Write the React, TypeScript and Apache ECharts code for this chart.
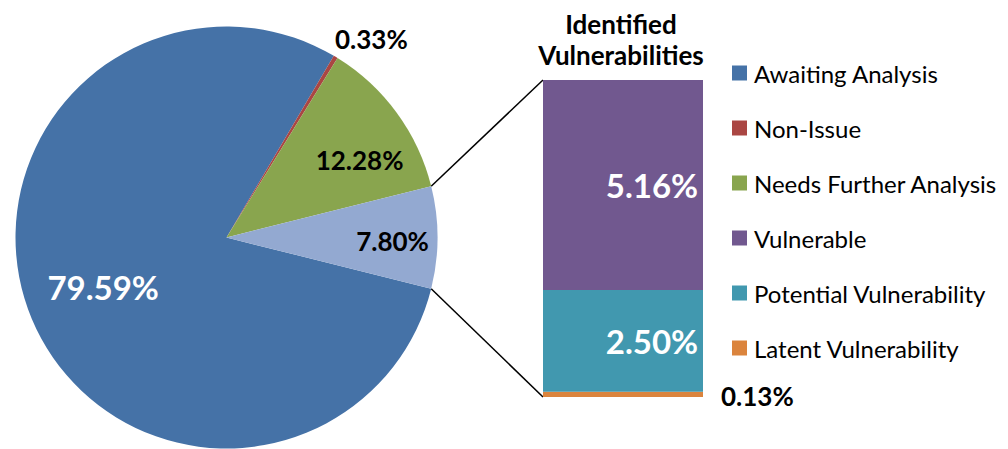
import React, { useEffect, useRef } from "react";
import * as echarts from "echarts";

// ---- data ----
const pieNames = ["Awaiting Analysis", "Non-Issue", "Needs Further Analysis", "Identified Vulnerabilities"];
const pieValues = [79.59, 0.33, 12.28, 7.8];
const pieColors = ["#4572A7", "#AA4643", "#89A54E", "#93A9D1"];

const barNames = ["Latent Vulnerability", "Potential Vulnerability", "Vulnerable"];
const barValues = [0.13, 2.5, 5.16];
const barColors = ["#DB843D", "#4198AF", "#71588F"];

const legendNames = [
  "Awaiting Analysis",
  "Non-Issue",
  "Needs Further Analysis",
  "Vulnerable",
  "Potential Vulnerability",
  "Latent Vulnerability",
];

// ---- layout ----
const W = 1008;
const H = 449;
const CX = 226.5;
const CY = 237.5;
const R = 211;
const BAR_LEFT = 543;
const BAR_RIGHT = 703;
const BAR_TOP = 80;
const BAR_BOTTOM = 397;
const TITLE_X = 616;
const FONT = "Lato, 'Open Sans', sans-serif";

// pie label placement: [radius factor, angle delta from slice mid (deg)]
const pieLabelPolar = [
  [0.63, -0.85],
  [1.165, -4.95],
  [0.73, -5.9],
  [0.787, -1.2],
];

export default function App() {
  const ref = useRef<HTMLDivElement>(null);

  useEffect(() => {
    if (!ref.current) return;
    const chart = echarts.init(ref.current, undefined, { renderer: "svg" });
    const pieTotal = pieValues.reduce((a, b) => a + b, 0);
    const lastShare = pieValues[pieValues.length - 1] / pieTotal;
    const halfAngle = 180 * lastShare;
    const startAngle = 360 - halfAngle;
    const barTotal = barValues.reduce((a, b) => a + b, 0);

    // slice mid angles (deg, math convention), clockwise from startAngle
    const midAngles: number[] = [];
    let acc = startAngle;
    pieValues.forEach((v) => {
      const span = (360 * v) / pieTotal;
      midAngles.push(acc - span / 2);
      acc -= span;
    });

    const option: any = {
      animation: false,
      backgroundColor: "#ffffff",
      textStyle: { fontFamily: FONT },
      title: {
        text: "Identified\nVulnerabilities",
        left: TITLE_X,
        top: 3,
        textAlign: "center",
        textStyle: {
          fontFamily: FONT,
          fontSize: 26,
          fontWeight: "bold",
          color: "#000",
          lineHeight: 31,
        },
      },
      legend: {
        orient: "vertical",
        left: 727,
        top: 56,
        itemWidth: 15,
        itemHeight: 15,
        itemGap: 31,
        icon: "rect",
        data: legendNames,
        selectedMode: false,
        textStyle: { fontFamily: FONT, fontSize: 24, color: "#000", lineHeight: 24, padding: [0, 0, 0, 2] },
      },
      grid: {
        left: BAR_LEFT,
        right: W - BAR_RIGHT,
        top: BAR_TOP,
        bottom: H - BAR_BOTTOM,
      },
      xAxis: { type: "category", data: ["Identified"], show: false },
      yAxis: { type: "value", min: 0, max: barTotal, show: false },
      series: [
        {
          type: "pie",
          center: [CX, CY],
          radius: [0, R],
          startAngle,
          clockwise: true,
          avoidLabelOverlap: false,
          data: pieNames.map((n, i) => ({
            name: n,
            value: pieValues[i],
            itemStyle: { color: pieColors[i] },
            label: {
              color: i === 0 ? "#fff" : "#000",
              fontSize: i === 0 ? 33 : 26,
            },
          })),
          label: {
            show: true,
            position: "inside",
            fontFamily: FONT,
            fontWeight: "bold",
            formatter: (p: any) => p.value.toFixed(2) + "%",
          },
          labelLine: { show: false },
          labelLayout: (p: any) => {
            const i = p.dataIndex;
            const pol = pieLabelPolar[i];
            const th = ((midAngles[i] + pol[1]) * Math.PI) / 180;
            return {
              x: CX + R * pol[0] * Math.cos(th),
              y: CY - R * pol[0] * Math.sin(th),
              align: "center",
              verticalAlign: "middle",
            };
          },
          itemStyle: { borderWidth: 0 },
          emphasis: { disabled: true },
        },
        ...barNames.map((n, i) => ({
          type: "bar",
          name: n,
          stack: "ident",
          barWidth: "100%",
          data: [barValues[i]],
          itemStyle: { color: barColors[i] },
          label: {
            show: true,
            position: i === 0 ? "right" : "inside",
            distance: 18,
            offset: i === 0 ? [0, 2] : [29, 0],
            fontFamily: FONT,
            fontWeight: "bold",
            fontSize: i === 0 ? 26 : 33,
            color: i === 0 ? "#000" : "#fff",
            formatter: (p: any) => p.value.toFixed(2) + "%",
          },
          emphasis: { disabled: true },
        })),
      ],
    };
    chart.setOption(option);

    // connector lines from the pie slice edges to the bar corners
    const a = (halfAngle * Math.PI) / 180;
    const topPt = chart.convertToPixel({ xAxisIndex: 0, yAxisIndex: 0 }, ["Identified", barTotal]) as number[];
    const botPt = chart.convertToPixel({ xAxisIndex: 0, yAxisIndex: 0 }, ["Identified", 0]) as number[];
    const p1 = [CX + R * Math.cos(a), CY - R * Math.sin(a)];
    const p2 = [CX + R * Math.cos(a), CY + R * Math.sin(a)];
    chart.setOption({
      graphic: [
        {
          type: "line",
          shape: { x1: p1[0], y1: p1[1], x2: BAR_LEFT, y2: topPt[1] },
          style: { stroke: "#000", lineWidth: 1.5 },
          silent: true,
        },
        {
          type: "line",
          shape: { x1: p2[0], y1: p2[1], x2: BAR_LEFT, y2: botPt[1] },
          style: { stroke: "#000", lineWidth: 1.5 },
          silent: true,
        },
      ],
    });

    return () => chart.dispose();
  }, []);

  return (
    <div
      ref={ref}
      style={{ position: "fixed", left: 0, top: 0, width: W, height: H, background: "#fff" }}
    />
  );
}
